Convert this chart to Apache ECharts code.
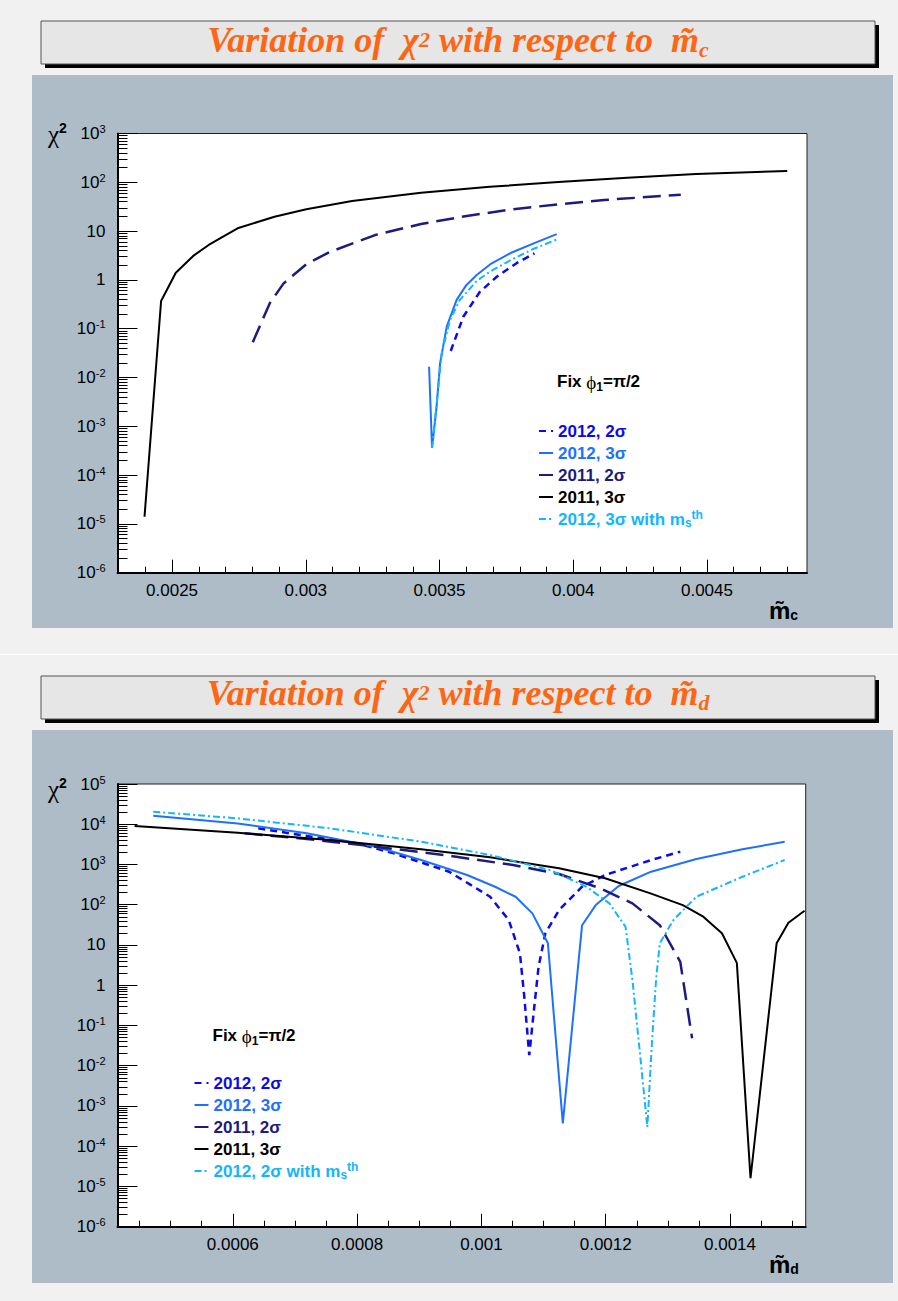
<!DOCTYPE html>
<html>
<head>
<meta charset="utf-8">
<script src="https://cdn.jsdelivr.net/npm/echarts@6.0.0/dist/echarts.min.js"></script>
<style>
  html, body { margin: 0; padding: 0; background: #f1f1f1; }
  #page { position: relative; width: 898px; height: 1301px; }
  #chartTop { position: absolute; left: 0; top: 0; width: 898px; height: 654px; }
  #chartBottom { position: absolute; left: 0; top: 655px; width: 898px; height: 646px; }
  .sep { position: absolute; left: 0; top: 654px; width: 898px; height: 1px; background: #fff; }
</style>
</head>
<body>
<div id="page">
  <div id="chartTop"></div>
  <div class="sep"></div>
  <div id="chartBottom"></div>
</div>
<script>
// ---- data: chi^2 vs m_c (upper pad) ----
const topXTicks = [0.0025, 0.003, 0.0035, 0.004, 0.0045]
const topYExp = [-6, -5, -4, -3, -2, -1, 0, 1, 2, 3]
const top2012s2 = [[0.003542, 0.035], [0.003589, 0.176], [0.003651, 0.57], [0.003714, 1.16], [0.003788, 2.2], [0.003855, 3.5]]
const top2012s3 = [[0.003461, 0.0166], [0.003472, 3.6e-4], [0.003489, 0.0025], [0.003502, 0.0195], [0.003527, 0.11],
  [0.003564, 0.39], [0.003600, 0.78], [0.003639, 1.26], [0.00369, 2.1], [0.003768, 3.6], [0.003859, 5.8], [0.003938, 8.7]]
const top2011s2 = [[0.002802, 0.053], [0.002865, 0.33], [0.002917, 0.85], [0.003002, 2.1], [0.003088, 3.7], [0.003259, 8.3],
  [0.003431, 14], [0.003602, 20.4], [0.003773, 28], [0.003944, 35.4], [0.004116, 43.4], [0.004402, 55.7]]
const top2011s3 = [[0.002397, 1.4e-5], [0.002459, 0.37], [0.002514, 1.4], [0.002579, 3.1], [0.002637, 5.2], [0.002694, 7.9],
  [0.002745, 11.4], [0.002883, 19.7], [0.003002, 28], [0.003173, 41.4], [0.003431, 61], [0.003688, 81], [0.003944, 101],
  [0.004202, 124], [0.004459, 148], [0.0048, 171]]
const top2012s3ms = [[0.003472, 3.6e-4], [0.003483, 0.00135], [0.003508, 0.031], [0.003539, 0.15], [0.003576, 0.39],
  [0.003639, 0.95], [0.00369, 1.5], [0.003775, 2.7], [0.00385, 4.3], [0.003938, 6.7]]

// ---- data: chi^2 vs m_d (lower pad) ----
const botXTicks = [0.0006, 0.0008, 0.001, 0.0012, 0.0014]
const botYExp = [-6, -5, -4, -3, -2, -1, 0, 1, 2, 3, 4, 5]
const bot2012s2 = [[0.000641, 7930], [0.000719, 5100], [0.0008, 3360], [0.000859, 1890], [0.000948, 662], [0.001014, 158],
  [0.001044, 41.7], [0.001062, 6.2], [0.001069, 0.52], [0.001077, 0.0184], [0.001084, 0.2], [0.001092, 2.9], [0.001103, 19.5],
  [0.001125, 74], [0.001162, 280], [0.001199, 547], [0.001273, 1290], [0.00132, 2080]]
const bot2012s3 = [[0.000472, 16300], [0.000608, 10500], [0.000719, 5950], [0.00083, 2770], [0.000903, 1290], [0.000977, 547],
  [0.001022, 280], [0.001055, 158], [0.001082, 61], [0.001107, 11], [0.001131, 3.7e-4], [0.001162, 31], [0.001184, 98],
  [0.001221, 292], [0.001273, 662], [0.001346, 1370], [0.00142, 2380], [0.001488, 3690]]
const bot2011s2 = [[0.000619, 5950], [0.000719, 4300], [0.00083, 2770], [0.00094, 1720], [0.001051, 970], [0.001125, 580],
  [0.001191, 256], [0.001243, 108], [0.001287, 31], [0.00132, 3.8], [0.001339, 0.048]]
const bot2011s3 = [[0.000442, 9040], [0.000608, 6160], [0.000756, 4060], [0.000903, 2380], [0.001014, 1510], [0.001125, 803],
  [0.001199, 454], [0.001272, 192], [0.001324, 98], [0.001357, 50.5], [0.001387, 19.5], [0.001411, 3.6], [0.001433, 1.6e-5],
  [0.001475, 11], [0.001494, 35.7], [0.00152, 71]]
const bot2012s2ms = [[0.000472, 20500], [0.000608, 14000], [0.000756, 7930], [0.000903, 3690], [0.001014, 1720], [0.00111, 730],
  [0.001169, 280], [0.001206, 108], [0.001232, 28], [0.001243, 1.35], [0.001254, 0.03], [0.001267, 3e-4], [0.001274, 0.03],
  [0.001281, 1.35], [0.001287, 11], [0.001309, 42], [0.001346, 158], [0.00142, 497], [0.001488, 1290]]

const legendNames = ['2012, 2σ', '2012, 3σ', '2011, 2σ', '2011, 3σ']
const lineColors = ['#0b0bea', '#1e70ff', '#1c1c80', '#000000', '#12b6ff']

const SANS = 'Liberation Sans, Arial, sans-serif'
const SERIF = 'Liberation Serif, Times New Roman, serif'

// minor ticks (axis decoration only)
const stepTicks = (a, b, step) => {
  const out = []
  for (let i = 0; a + i * step <= b + step * 1e-6; i++) out.push(+(a + i * step).toFixed(8))
  return out
}
const logMinor = (exps) => {
  const out = []
  exps.slice(0, -1).forEach(e => { for (let k = 2; k <= 9; k++) out.push(e + Math.log10(k)) })
  return out
}

const makeOption = (cfg) => {
  const lastName = cfg.msName
  const names = legendNames.concat([lastName])
  const styles = [
    { width: 2.5, type: [7, 5] },
    { width: 2, type: 'solid' },
    { width: 2.5, type: [18, 8] },
    { width: 2, type: 'solid' },
    { width: 2, type: [7, 3, 2, 3] }
  ]
  const seriesData = cfg.series
  const series = [4, 0, 2, 1, 3].map(i => ({
    name: names[i],
    type: 'line',
    data: seriesData[i],
    xAxisIndex: 0,
    yAxisIndex: 0,
    symbol: 'none',
    showSymbol: false,
    smooth: false,
    clip: true,
    z: 2 + i,
    itemStyle: { color: lineColors[i] },
    lineStyle: { color: lineColors[i], width: styles[i].width, type: styles[i].type }
  }))
  const expMin = cfg.yExp[0]
  const expMax = cfg.yExp[cfg.yExp.length - 1]
  return {
    animation: false,
    graphic: [
      { type: 'rect', z: -20, shape: { x: 32, y: 75, width: 861, height: 553 }, style: { fill: '#adbcc6' } },
      { type: 'rect', z: -20, shape: { x: 45, y: 25, width: 834, height: 43 }, style: { fill: '#000' } },
      { type: 'rect', z: -19, shape: { x: 41, y: 21, width: 834, height: 43 }, style: { fill: '#e6e6e6', stroke: '#555', lineWidth: 1 } },
      {
        type: 'text', x: 458, y: cfg.titleY, z: 10,
        style: {
          text: '{a|Variation of  χ}{p|2}{a| with respect to  m̃}{b|' + cfg.sub + '}',
          align: 'center', verticalAlign: 'top', fill: '#ff6614',
          rich: {
            a: { fontFamily: SERIF, fontSize: 36, fontWeight: 'bold', fontStyle: 'italic', lineHeight: 40, verticalAlign: 'middle', fill: '#ff6614' },
            p: { fontFamily: SERIF, fontSize: 22, fontWeight: 'bold', fontStyle: 'italic', lineHeight: 22, verticalAlign: 'top', padding: [8, 0, 0, 0], fill: '#ff6614' },
            b: { fontFamily: SERIF, fontSize: 22, fontWeight: 'bold', fontStyle: 'italic', lineHeight: 22, verticalAlign: 'bottom', fill: '#ff6614' }
          }
        }
      },
      {
        type: 'text', x: 48, y: cfg.chiY, z: 10,
        style: {
          text: '{a|χ}{b|2}', verticalAlign: 'top',
          rich: {
            a: { fontFamily: SERIF, fontSize: 25, lineHeight: 26, verticalAlign: 'bottom', fill: '#000' },
            b: { fontFamily: SANS, fontSize: 14, fontWeight: 'bold', lineHeight: 14, verticalAlign: 'top', fill: '#000' }
          }
        }
      },
      {
        type: 'text', x: 769, y: cfg.mY, z: 10,
        style: {
          text: '{a|m̃}{b|' + cfg.xSub + '}', verticalAlign: 'top',
          rich: {
            a: { fontFamily: SANS, fontSize: 24, fontWeight: 'bold', lineHeight: 24, verticalAlign: 'top', fill: '#000' },
            b: { fontFamily: SANS, fontSize: 14, fontWeight: 'bold', lineHeight: 14, verticalAlign: 'bottom', fill: '#000' }
          }
        }
      },
      {
        type: 'text', x: cfg.fixX, y: cfg.fixY, z: 10,
        style: {
          text: '{a|Fix }{f|ϕ}{b|1}{a|=π/2}', verticalAlign: 'top',
          rich: {
            a: { fontFamily: SANS, fontSize: 17, fontWeight: 'bold', lineHeight: 20, verticalAlign: 'top', fill: '#000' },
            f: { fontFamily: SERIF, fontSize: 19, lineHeight: 20, verticalAlign: 'top', fill: '#000' },
            b: { fontFamily: SANS, fontSize: 12, fontWeight: 'bold', lineHeight: 12, verticalAlign: 'bottom', fill: '#000' }
          }
        }
      }
    ],
    grid: {
      left: 117.5, top: cfg.gridTop, width: cfg.gridW, height: cfg.gridH,
      show: true, backgroundColor: '#fff', borderColor: '#222', borderWidth: 1,
      containLabel: false, outerBoundsMode: 'none'
    },
    legend: {
      orient: 'vertical', left: cfg.legLeft, top: cfg.legTop, padding: 0,
      itemWidth: 14, itemHeight: 10, itemGap: 2, selectedMode: false,
      itemStyle: { opacity: 0 },
      data: names.map((n, i) => ({ name: n, textStyle: { color: lineColors[i] } })),
      formatter: (name) => name === lastName ? '{t|' + name + '}{s|s}{u|th}' : name,
      textStyle: {
        fontFamily: SANS, fontSize: 17, fontWeight: 'bold', lineHeight: 20,
        rich: {
          t: { fontFamily: SANS, fontSize: 17, fontWeight: 'bold', lineHeight: 20, color: lineColors[4] },
          s: { fontFamily: SANS, fontSize: 12, fontWeight: 'bold', lineHeight: 12, verticalAlign: 'bottom', color: lineColors[4] },
          u: { fontFamily: SANS, fontSize: 12, fontWeight: 'bold', lineHeight: 12, verticalAlign: 'top', color: lineColors[4] }
        }
      }
    },
    xAxis: [
      {
        type: 'value', min: cfg.xMin, max: cfg.xMax,
        axisLine: { show: true, onZero: false, lineStyle: { color: '#000', width: 2 } },
        axisTick: { show: true, inside: true, length: 13, customValues: cfg.xTicks, lineStyle: { color: '#000', width: 1 } },
        axisLabel: { customValues: cfg.xTicks, margin: 9, fontSize: 17, color: '#000', fontFamily: SANS, formatter: v => String(v) },
        splitLine: { show: false }
      },
      {
        type: 'value', min: cfg.xMin, max: cfg.xMax, position: 'bottom', offset: 0,
        axisLine: { show: false, onZero: false },
        axisTick: { show: true, inside: true, length: 6, customValues: cfg.xMinor, lineStyle: { color: '#000', width: 1 } },
        axisLabel: { show: false },
        splitLine: { show: false }
      }
    ],
    yAxis: [
      {
        type: 'log', logBase: 10, min: Math.pow(10, expMin), max: Math.pow(10, expMax),
        axisLine: { show: true, onZero: false, lineStyle: { color: '#000', width: 2 } },
        axisTick: { show: false }, axisLabel: { show: false }, splitLine: { show: false }, minorTick: { show: false }
      },
      {
        type: 'value', min: expMin, max: expMax, position: 'left', offset: 0,
        axisLine: { show: false, onZero: false },
        axisTick: { show: true, inside: true, length: 20, customValues: cfg.yExp, lineStyle: { color: '#000', width: 1 } },
        axisLabel: {
          customValues: cfg.yExp, margin: 12, fontSize: 17, color: '#000', fontFamily: SANS, lineHeight: 20,
          formatter: v => {
            const e = Math.round(v)
            if (e === 0) return '1'
            if (e === 1) return '10'
            return '10{sup|' + e + '}'
          },
          rich: { sup: { fontSize: 11, lineHeight: 11, verticalAlign: 'top', fontFamily: SANS, color: '#000' } }
        },
        splitLine: { show: false }
      },
      {
        type: 'value', min: expMin, max: expMax, position: 'left', offset: 0,
        axisLine: { show: false, onZero: false },
        axisTick: { show: true, inside: true, length: 10, customValues: logMinor(cfg.yExp), lineStyle: { color: '#000', width: 1 } },
        axisLabel: { show: false },
        splitLine: { show: false }
      }
    ],
    series: series
  }
}

const topChart = echarts.init(document.getElementById('chartTop'), null, { renderer: 'svg' })
topChart.setOption(makeOption({
  titleY: 20, chiY: 121, mY: 598, sub: 'c', xSub: 'c',
  fixX: 557, fixY: 373,
  gridTop: 133.5, gridW: 689.5, gridH: 439.2,
  legLeft: 538, legTop: 421,
  xMin: 0.002296, xMax: 0.004874, xTicks: topXTicks, xMinor: stepTicks(0.0023, 0.0048, 0.0001),
  yExp: topYExp,
  msName: '2012, 3σ with m',
  series: [top2012s2, top2012s3, top2011s2, top2011s3, top2012s3ms]
}))

const botChart = echarts.init(document.getElementById('chartBottom'), null, { renderer: 'svg' })
botChart.setOption(makeOption({
  titleY: 18, chiY: 121, mY: 597, sub: 'd', xSub: 'd',
  fixX: 212.5, fixY: 372,
  gridTop: 129, gridW: 688.2, gridH: 442.7,
  legLeft: 193.5, legTop: 418,
  xMin: 0.0004145, xMax: 0.0015218, xTicks: botXTicks, xMinor: stepTicks(0.00045, 0.0015, 0.00005),
  yExp: botYExp,
  msName: '2012, 2σ with m',
  series: [bot2012s2, bot2012s3, bot2011s2, bot2011s3, bot2012s2ms]
}))
</script>
</body>
</html>
